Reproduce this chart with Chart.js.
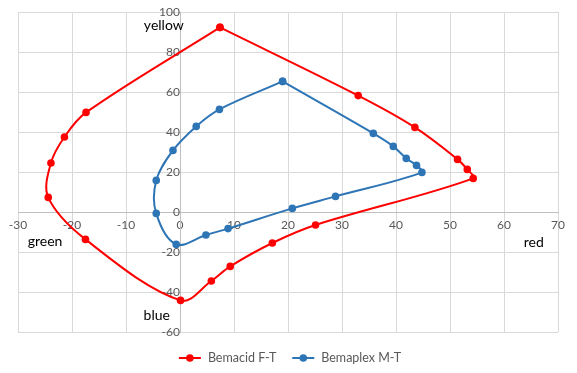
<!DOCTYPE html>
<html>
<head>
<meta charset="utf-8">
<script src="https://cdn.jsdelivr.net/npm/chart.js@4"></script>
<style>
  body { margin: 0; background: #fff; }
  #wrap { width: 577px; height: 373px; }
</style>
</head>
<body>
<div id="wrap"><canvas id="chart"></canvas></div>
<script>
// valores (a*, b*)
const seriesNames = ['Bemacid F-T', 'Bemaplex M-T'];
const seriesColors = ['#ff0000', '#2e75b6'];

const bemacidX = [7.4, 33.0, 43.5, 51.4, 53.2, 54.3, 25.1, 17.1, 9.3, 5.8, 0.1, -17.5, -24.4, -23.9, -21.4, -17.4, 7.4];
const bemacidY = [92.3, 58.2, 42.3, 26.3, 21.3, 16.8, -6.5, -15.5, -27.2, -34.5, -44.2, -13.7, 7.3, 24.5, 37.5, 49.8, 92.3];

const bemaplexX = [19.0, 35.8, 39.5, 41.9, 43.8, 44.8, 28.8, 20.8, 8.9, 4.8, -0.7, -4.4, -4.4, -1.3, 3.0, 7.3, 19.0];
const bemaplexY = [65.3, 39.3, 32.8, 26.8, 23.3, 19.8, 7.8, 1.8, -8.3, -11.5, -16.2, -0.7, 15.8, 30.8, 42.8, 51.3, 65.3];

const xTicks = [-30, -20, -10, 0, 10, 20, 30, 40, 50, 60, 70];
const yTicks = [-60, -40, -20, 0, 20, 40, 60, 80, 100];

// rotulos das cores nos eixos
const colorLabels = ['yellow', 'green', 'red', 'blue'];
const colorLabelX = [-3, -25, 65.5, -4.3];
const colorLabelY = [93.5, -14.5, -15, -51.5];

const fontFamily = 'Lato, "Liberation Sans", sans-serif';
Chart.defaults.font.family = fontFamily;
Chart.defaults.font.size = 12;

function toPoints(xs, ys) {
  return xs.map((x, i) => ({ x: x, y: ys[i] }));
}

const colorLabelsPlugin = {
  id: 'colorLabels',
  afterDraw(chart) {
    const ctx = chart.ctx;
    const xs = chart.scales.x;
    const ys = chart.scales.y;
    ctx.save();
    ctx.font = '14px ' + fontFamily;
    ctx.fillStyle = '#000';
    ctx.textAlign = 'center';
    ctx.textBaseline = 'middle';
    colorLabels.forEach((txt, i) => {
      ctx.fillText(txt, xs.getPixelForValue(colorLabelX[i]), ys.getPixelForValue(colorLabelY[i]));
    });
    ctx.restore();
  }
};

// legenda desenhada na mao (linha + bolinha + texto)
const legendPlugin = {
  id: 'myLegend',
  afterDraw(chart) {
    const ctx = chart.ctx;
    ctx.save();
    ctx.font = '12.5px ' + fontFamily;
    const iconW = 22, gapText = 7, gapItem = 16;
    const widths = chart.data.datasets.map(ds => iconW + gapText + ctx.measureText(ds.label).width);
    const total = widths.reduce((a, b) => a + b, 0) + gapItem * (widths.length - 1);
    let x = 290 - total / 2;
    const y = 358;
    chart.data.datasets.forEach((ds, i) => {
      ctx.strokeStyle = ds.borderColor;
      ctx.fillStyle = ds.borderColor;
      ctx.lineWidth = 2;
      ctx.beginPath();
      ctx.moveTo(x, y);
      ctx.lineTo(x + iconW, y);
      ctx.stroke();
      ctx.beginPath();
      ctx.arc(x + iconW / 2, y, 3.8, 0, Math.PI * 2);
      ctx.fill();
      ctx.fillStyle = '#595959';
      ctx.textAlign = 'left';
      ctx.textBaseline = 'middle';
      ctx.fillText(ds.label, x + iconW + gapText, y);
      x += widths[i] + gapItem;
    });
    ctx.restore();
  }
};

function makeDataset(i, xs, ys) {
  return {
    label: seriesNames[i],
    data: toPoints(xs, ys),
    showLine: true,
    borderColor: seriesColors[i],
    backgroundColor: seriesColors[i],
    borderWidth: 2,
    pointRadius: 3.8,
    pointBorderWidth: 0,
    pointStyle: 'circle',
    tension: 0.35
  };
}

const ctx = document.getElementById('chart').getContext('2d');
new Chart(ctx, {
  type: 'scatter',
  data: {
    datasets: [
      makeDataset(0, bemacidX, bemacidY),
      makeDataset(1, bemaplexX, bemaplexY)
    ]
  },
  options: {
    responsive: true,
    maintainAspectRatio: false,
    animation: false,
    layout: { padding: { left: 18, right: 19, top: 12, bottom: 41 } },
    scales: {
      x: {
        type: 'linear',
        position: { y: 0 },
        min: -30,
        max: 70,
        afterBuildTicks: s => { s.ticks = xTicks.map(v => ({ value: v })); },
        ticks: { color: '#595959', padding: 6 },
        grid: { color: '#d9d9d9', drawTicks: false },
        border: { color: '#bfbfbf' }
      },
      y: {
        type: 'linear',
        position: { x: 0 },
        min: -60,
        max: 100,
        afterBuildTicks: s => { s.ticks = yTicks.map(v => ({ value: v })); },
        // o padding dos rotulos nao deve empurrar a area do grafico
        afterFit: s => { s.paddingTop = 0; s.paddingBottom = 0; },
        ticks: { color: '#595959', padding: 10 },
        grid: { color: '#d9d9d9', drawTicks: false },
        border: { color: '#bfbfbf' }
      }
    },
    plugins: {
      tooltip: { enabled: false },
      legend: { display: false }
    }
  },
  plugins: [colorLabelsPlugin, legendPlugin]
});
</script>
</body>
</html>
